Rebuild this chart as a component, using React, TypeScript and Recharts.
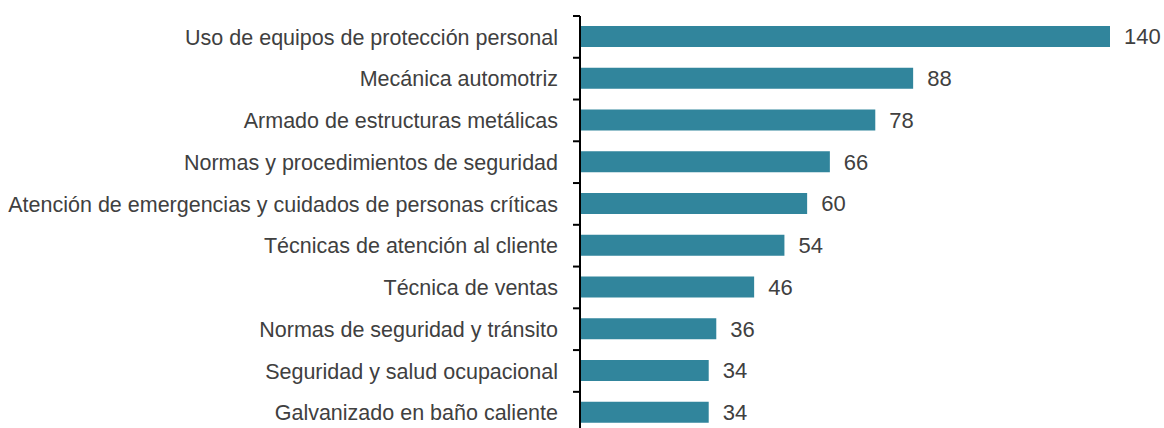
import { BarChart, Bar, XAxis, YAxis, LabelList } from 'recharts'

// Cursos más demandados (número de participantes)
const categories: string[] = [
  'Uso de equipos de protección personal',
  'Mecánica automotriz',
  'Armado de estructuras metálicas',
  'Normas y procedimientos de seguridad',
  'Atención de emergencias y cuidados de personas críticas',
  'Técnicas de atención al cliente',
  'Técnica de ventas',
  'Normas de seguridad y tránsito',
  'Seguridad y salud ocupacional',
  'Galvanizado en baño caliente',
]
const values: number[] = [140, 88, 78, 66, 60, 54, 46, 36, 34, 34]

const data = categories.map((name, i) => ({ name, value: values[i] }))

const FONT = '"Liberation Sans", Arial, sans-serif'
const TEXT = '#404040'
const BAR = '#31859C'

const WIDTH = 1164
const HEIGHT = 440
const MARGIN = { top: 16, right: 54, bottom: 6.4, left: 0 }
const AXIS_W = 580
const TICK_SIZE = 7
const TICK_MARGIN = 15
const band = (HEIGHT - MARGIN.top - MARGIN.bottom) / categories.length

// label plus a tick mark at the top edge of each band (Excel style)
function CategoryTick(props: any) {
  const { x, y, payload } = props
  const axisX = x + TICK_SIZE + TICK_MARGIN
  return (
    <g>
      <line x1={axisX} x2={axisX - TICK_SIZE} y1={y - band / 2} y2={y - band / 2} stroke="#000" strokeWidth={2} />
      <text x={x} y={y} dy="0.355em" textAnchor="end" fill={TEXT} fontSize={21.5} fontFamily={FONT}>
        {payload.value}
      </text>
    </g>
  )
}

export default function App() {
  // fixed so the chart can run past the bottom edge without a scrollbar
  return (
    <div style={{ position: 'fixed', left: 0, top: 0, width: 1164, height: 428, overflow: 'hidden', background: '#fff' }}>
      <BarChart width={WIDTH} height={HEIGHT} data={data} layout="vertical" margin={MARGIN} barSize={21}>
        <XAxis type="number" domain={[0, 140]} hide />
        <YAxis
          type="category"
          dataKey="name"
          width={AXIS_W}
          axisLine={{ stroke: '#000', strokeWidth: 2 }}
          tickLine={false}
          tickSize={TICK_SIZE}
          tickMargin={TICK_MARGIN}
          tick={<CategoryTick />}
          interval={0}
        />
        <Bar dataKey="value" fill={BAR} isAnimationActive={false}>
          <LabelList
            dataKey="value"
            position="right"
            offset={14}
            fill={TEXT}
            fontSize={22}
            fontFamily={FONT}
          />
        </Bar>
      </BarChart>
    </div>
  )
}
